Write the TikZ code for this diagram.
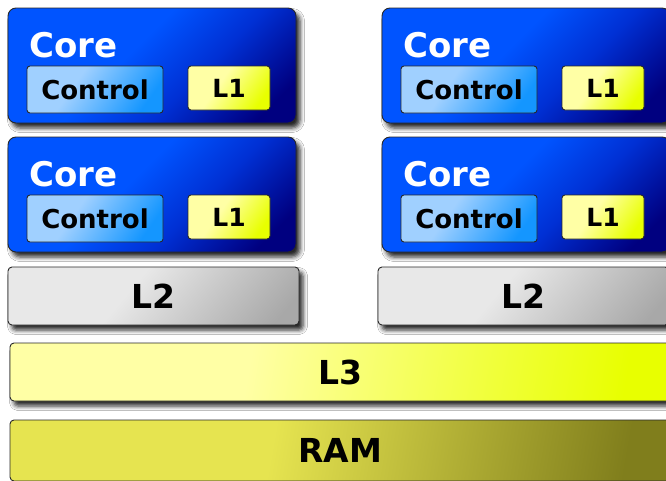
\documentclass[tikz,border=0pt]{standalone}
\usepackage{fontspec}
\setmainfont{DejaVu Sans}
\usetikzlibrary{shadows.blur}

% palette
\definecolor{coreA}{RGB}{0,84,255}
\definecolor{coreB}{RGB}{0,48,212}
\definecolor{coreC}{RGB}{0,0,128}
\definecolor{ctlA}{RGB}{160,208,255}
\definecolor{ctlC}{RGB}{20,150,255}
\definecolor{lA}{RGB}{255,255,165}
\definecolor{lC}{RGB}{232,255,0}
\definecolor{gA}{RGB}{232,232,232}
\definecolor{gC}{RGB}{168,168,168}
\definecolor{ramA}{RGB}{230,228,80}
\definecolor{ramC}{RGB}{128,126,28}
\definecolor{edge}{RGB}{40,40,40}

% gradients (useful range 25bp..75bp)
\pgfdeclarehorizontalshading{coreshade}{100bp}{color(0bp)=(coreA); color(25bp)=(coreA); color(44bp)=(coreA); color(60bp)=(coreB); color(78bp)=(coreC); color(100bp)=(coreC)}
\pgfdeclarehorizontalshading{ctlshade}{100bp}{color(0bp)=(ctlA); color(25bp)=(ctlA); color(40bp)=(ctlA); color(75bp)=(ctlC); color(100bp)=(ctlC)}
\pgfdeclarehorizontalshading{lshade}{100bp}{color(0bp)=(lA); color(25bp)=(lA); color(42bp)=(lA); color(75bp)=(lC); color(100bp)=(lC)}
\pgfdeclarehorizontalshading{gshade}{100bp}{color(0bp)=(gA); color(25bp)=(gA); color(44bp)=(gA); color(80bp)=(gC); color(100bp)=(gC)}
\pgfdeclarehorizontalshading{ramshade}{100bp}{color(0bp)=(ramA); color(25bp)=(ramA); color(44bp)=(ramA); color(75bp)=(ramC); color(100bp)=(ramC)}

\tikzset{
  unit/.style={draw=edge, line width=0.9pt, inner sep=0pt, font=\bfseries},
  dropshade/.style={blur shadow={shadow xshift=4pt, shadow yshift=-5pt,
      shadow blur radius=4.5pt, shadow opacity=85}},
  corebox/.style={unit, dropshade, rounded corners=8pt, shading=coreshade,
      shading angle=-45, minimum width=288pt, minimum height=115pt},
  ctlbox/.style={unit, rounded corners=3pt, shading=ctlshade, shading angle=-35,
      minimum width=136pt, minimum height=47pt, font=\bfseries\fontsize{26pt}{26pt}\selectfont},
  l1box/.style={unit, rounded corners=3pt, shading=lshade, shading angle=-35,
      minimum width=82pt, minimum height=44pt, font=\bfseries\fontsize{25pt}{25pt}\selectfont},
  corelabel/.style={inner sep=0pt, anchor=base west, text=white,
      font=\bfseries\fontsize{34pt}{34pt}\selectfont},
  l2box/.style={unit, dropshade, rounded corners=4pt, shading=gshade, shading angle=-40,
      minimum width=291pt, minimum height=58pt, font=\bfseries\fontsize{33pt}{33pt}\selectfont},
  l3box/.style={unit, dropshade, rounded corners=4pt, shading=lshade, shading angle=-10,
      minimum width=660pt, minimum height=58pt, font=\bfseries\fontsize{33pt}{33pt}\selectfont},
  rambox/.style={unit, rounded corners=4pt, shading=ramshade, shading angle=-10,
      minimum width=660pt, minimum height=61pt, font=\bfseries\fontsize{33pt}{33pt}\selectfont},
}

\begin{document}
\begin{tikzpicture}[x=1pt, y=-1pt]
  \useasboundingbox (0,0) rectangle (666,480);
  \fill[white] (0,0) rectangle (666,480);
  \clip (0,0) rectangle (666,480);

  % four cores
  \node[corebox] (coreTL) at (152,65.5) {};
  \node[corebox] (coreBL) at (152,194.5) {};
  \node[corebox] (coreTR) at (526,65.5) {};
  \node[corebox] (coreBR) at (526,194.5) {};

  \node[corelabel] (coreTLt) at (29,57) {Core};
  \node[corelabel] (coreBLt) at (29,186) {Core};
  \node[corelabel] (coreTRt) at (403,57) {Core};
  \node[corelabel] (coreBRt) at (403,186) {Core};

  % control units and L1 caches
  \node[ctlbox] (ctlTL) at (95,89.5) {Control};
  \node[ctlbox] (ctlBL) at (95,218.5) {Control};
  \node[ctlbox] (ctlTR) at (469,89.5) {Control};
  \node[ctlbox] (ctlBR) at (469,218.5) {Control};

  \node[l1box] (l1TL) at (229,88) {L1};
  \node[l1box] (l1BL) at (229,217) {L1};
  \node[l1box] (l1TR) at (603,88) {L1};
  \node[l1box] (l1BR) at (603,217) {L1};

  % shared levels
  \node[l2box] (l2L) at (153.5,296) {L2};
  \node[l2box] (l2R) at (523.5,296) {L2};
  \node[l3box] (l3) at (340,372) {L3};
  \node[rambox] (ram) at (340,450.5) {RAM};
\end{tikzpicture}
\end{document}
